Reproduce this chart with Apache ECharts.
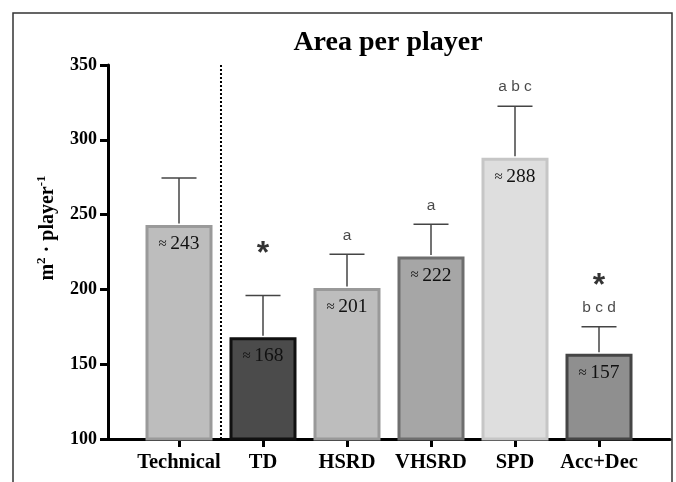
<!DOCTYPE html>
<html>
<head>
<meta charset="utf-8">
<script src="https://cdn.jsdelivr.net/npm/echarts@6/dist/echarts.min.js"></script>
<style>html,body{margin:0;padding:0;background:#fff}#c{width:676px;height:482px}</style>
</head>
<body>
<div id="c"></div>
<script>
const categories = ['Technical', 'TD', 'HSRD', 'VHSRD', 'SPD', 'Acc+Dec'];
const means = [243, 168, 201, 222, 288, 157];
const errTops = [274.5, 196, 223.5, 243.5, 322.5, 175];
const letters = ['', '', 'a', 'a', 'a b c', 'b c d'];
const stars = ['', '*', '', '', '', '*'];
const yTicks = { min: 100, max: 350, interval: 50 };
const fills = ['#bdbdbd', '#4b4b4b', '#bdbdbd', '#a6a6a6', '#dedede', '#8f8f8f'];
const borders = ['#9a9a9a', '#111111', '#999999', '#6e6e6e', '#c6c6c6', '#454545'];

const serif = 'Liberation Serif';
const chart = echarts.init(document.getElementById('c'));

const barData = means.map((v, i) => ({
  value: v,
  itemStyle: { color: fills[i], borderColor: borders[i], borderWidth: 3 }
}));

chart.setOption({
  animation: false,
  title: {
    text: 'Area per player',
    left: 383, top: 24, textAlign: 'center',
    textStyle: { fontFamily: serif, fontWeight: 'bold', fontSize: 28, color: '#000' }
  },
  graphic: [
    { type: 'rect', shape: { x: 13, y: 13, width: 659, height: 520 },
      style: { fill: 'none', stroke: '#333', lineWidth: 1.5 }, silent: true },
    { type: 'text', x: 48, y: 228, rotation: Math.PI / 2,
      style: { text: '{b|m}{s|2}{b| · player}{s|-1}', fontFamily: serif, fontWeight: 'bold', fontSize: 20,
        fill: '#000', align: 'center', verticalAlign: 'middle',
        rich: {
          b: { fontFamily: serif, fontWeight: 'bold', fontSize: 20, lineHeight: 26, fill: '#000', verticalAlign: 'middle' },
          s: { fontFamily: serif, fontWeight: 'bold', fontSize: 13, lineHeight: 12, fill: '#000', verticalAlign: 'top' }
        } } }
  ],
  grid: [
    { left: 108, right: 6, top: 65, bottom: 43 },
    { left: 137, width: 504, top: 65, bottom: 43 }
  ],
  xAxis: [
    { type: 'value', gridIndex: 0, min: -0.845, max: 5.845,
      axisLine: { show: true, onZero: false, lineStyle: { color: '#000', width: 3 } },
      axisTick: { show: false }, axisLabel: { show: false }, splitLine: { show: false } },
    { type: 'category', gridIndex: 1, data: categories,
      axisLine: { show: false, onZero: false },
      axisTick: { show: true, alignWithLabel: true, length: 8, lineStyle: { color: '#000', width: 3 } },
      axisLabel: { interval: 0, margin: 13, fontFamily: serif, fontWeight: 'bold', fontSize: 20.5, color: '#000' } }
  ],
  yAxis: [
    { type: 'value', gridIndex: 0, min: yTicks.min, max: yTicks.max, interval: yTicks.interval,
      axisLine: { show: true, onZero: false, lineStyle: { color: '#000', width: 3 } },
      axisTick: { show: true, length: 8, lineStyle: { color: '#000', width: 3 } },
      axisLabel: { margin: 11, fontFamily: serif, fontWeight: 'bold', fontSize: 18, color: '#000' },
      splitLine: { show: false } },
    { type: 'value', gridIndex: 1, min: yTicks.min, max: yTicks.max, interval: yTicks.interval, show: false }
  ],
  series: [
    { type: 'line', xAxisIndex: 0, yAxisIndex: 0, data: [[0.5, yTicks.min], [0.5, yTicks.max + 2]],
      symbol: 'none', lineStyle: { type: [2, 2], color: '#000', width: 2 }, z: 1 },
    { type: 'bar', xAxisIndex: 1, yAxisIndex: 1, data: barData, barWidth: 67, z: 2,
      label: { show: true, position: 'insideTop', distance: 9,
        formatter: p => '{s|≈ }{n|' + p.value + '}',
        rich: {
          s: { fontFamily: serif, fontSize: 15, color: '#111' },
          n: { fontFamily: serif, fontSize: 19.5, color: '#111' }
        } } },
    { type: 'custom', xAxisIndex: 1, yAxisIndex: 1, z: 3,
      data: means.map((m, i) => [i, m, errTops[i]]),
      renderItem: (params, api) => {
        const base = api.coord([api.value(0), api.value(1)]);
        const top = api.coord([api.value(0), api.value(2)]);
        const hw = 17.5;
        const st = { stroke: '#444', lineWidth: 1.5 };
        return { type: 'group', children: [
          { type: 'line', shape: { x1: top[0], y1: base[1] - 1.5, x2: top[0], y2: top[1] }, style: st },
          { type: 'line', shape: { x1: top[0] - hw, y1: top[1], x2: top[0] + hw, y2: top[1] }, style: st }
        ] };
      } },
    { type: 'scatter', xAxisIndex: 1, yAxisIndex: 1, symbolSize: 0, z: 4,
      data: errTops.map((v, i) => [i, v]),
      label: { show: true, position: 'top', distance: 11,
        formatter: p => letters[p.dataIndex],
        fontFamily: 'Liberation Sans', fontSize: 15.5, color: '#1a1a1a' } },
    { type: 'scatter', xAxisIndex: 1, yAxisIndex: 1, symbolSize: 0, z: 4,
      data: errTops.map((v, i) => [i, v]),
      label: { show: true, position: 'top', distance: 25,
        formatter: p => stars[p.dataIndex],
        fontFamily: 'Liberation Sans', fontWeight: 'bold', fontSize: 32, color: '#000' } }
  ]
});
</script>
</body>
</html>
